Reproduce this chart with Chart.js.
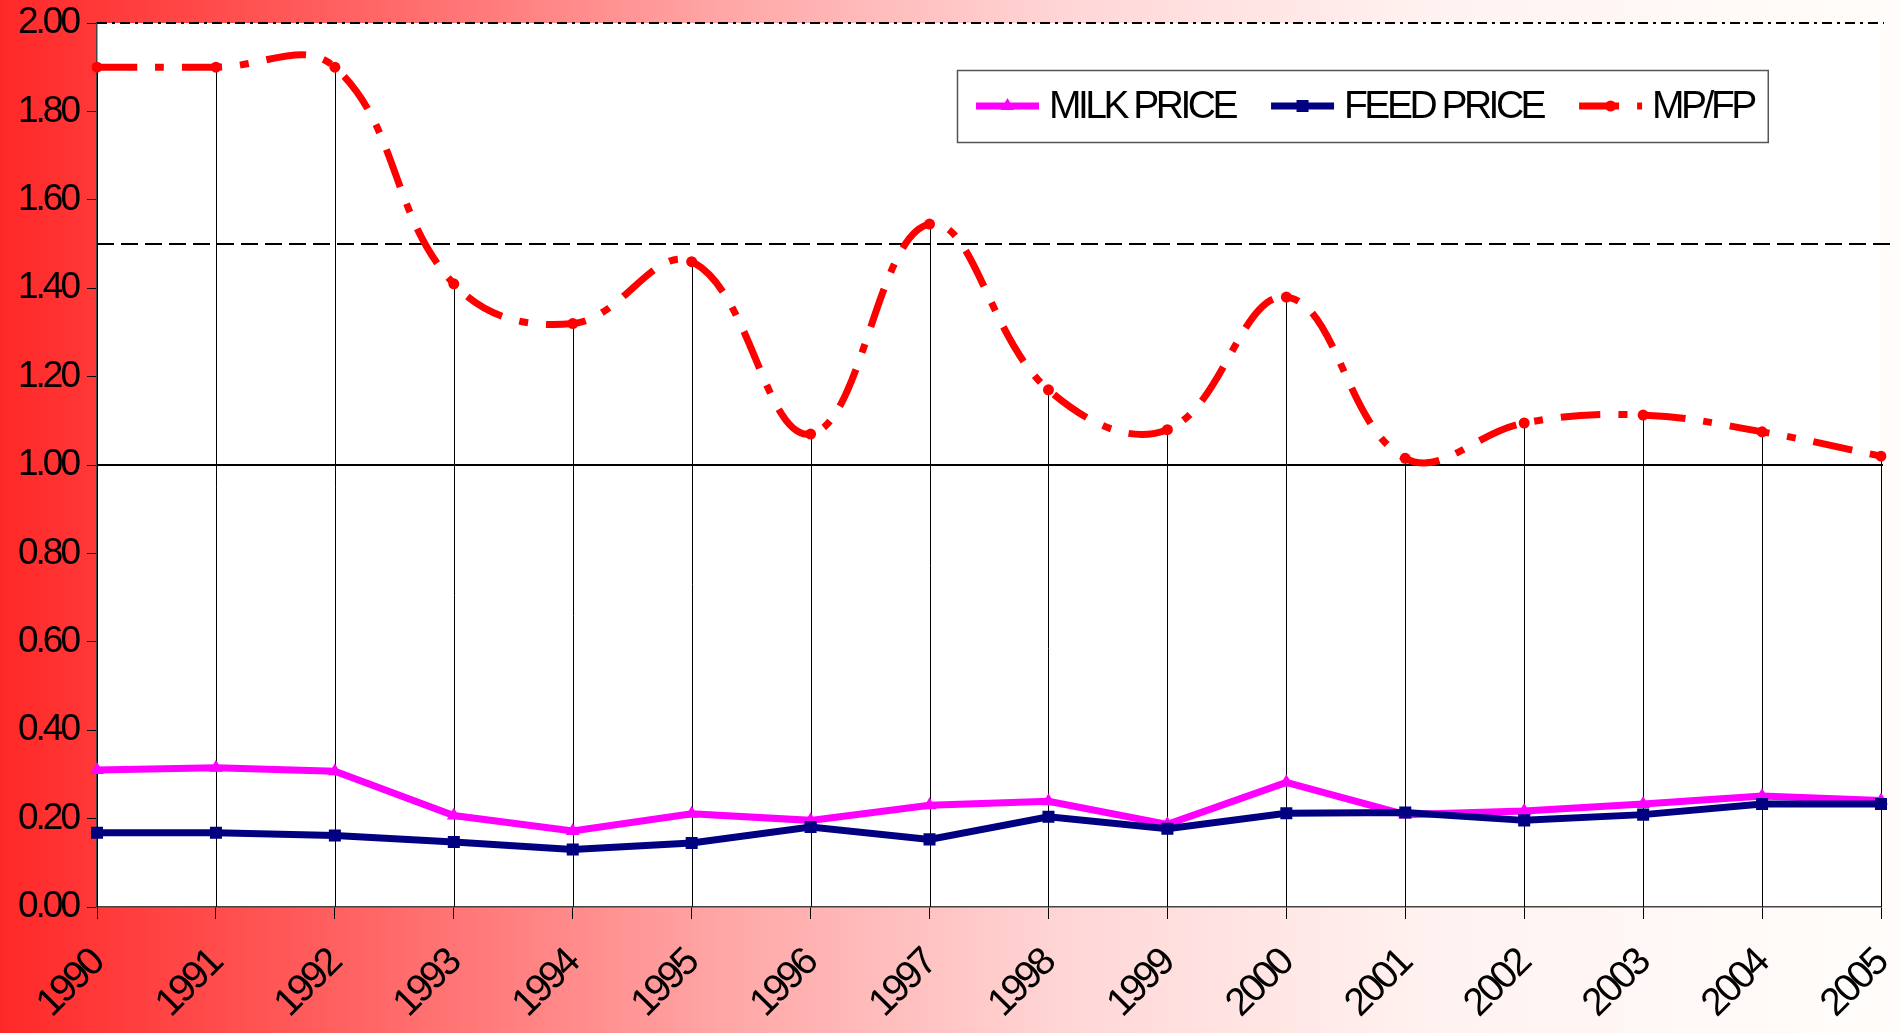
<!DOCTYPE html>
<html>
<head>
<meta charset="utf-8">
<title>Milk price / feed price</title>
<script src="https://cdn.jsdelivr.net/npm/chart.js@4.4.0/dist/chart.umd.min.js"></script>
<style>
  html, body { margin: 0; padding: 0; background: #fff; }
  canvas { display: block; }
</style>
</head>
<body>
<canvas id="chartPrices" width="1899" height="1033"></canvas>
<script>
const years = ['1990', '1991', '1992', '1993', '1994', '1995', '1996', '1997', '1998', '1999', '2000', '2001', '2002', '2003', '2004', '2005'];
const milkPrice = [0.31, 0.315, 0.307, 0.207, 0.172, 0.211, 0.196, 0.23, 0.239, 0.187, 0.282, 0.209, 0.217, 0.233, 0.251, 0.241];
const feedPrice = [0.168, 0.168, 0.162, 0.147, 0.13, 0.145, 0.181, 0.153, 0.204, 0.177, 0.212, 0.214, 0.196, 0.209, 0.233, 0.233];
const mpFp = [1.90, 1.90, 1.90, 1.41, 1.32, 1.46, 1.07, 1.545, 1.17, 1.08, 1.38, 1.015, 1.095, 1.113, 1.075, 1.02];
const refLevels = [2.0, 1.5, 1.0];

const FONT = '"Liberation Sans", Arial, sans-serif';
const MPFP_DASH = [40, 18, 9, 18];

// gradient page background + white plot area
const background = {
  id: 'background',
  beforeDraw(chart) {
    const { ctx, width, height, chartArea: a } = chart;
    ctx.letterSpacing = '-3px'; // squeeze tick labels like the original
    const g = ctx.createLinearGradient(0, 0, width, 0);
    g.addColorStop(0, '#ff2828');
    g.addColorStop(0.19, '#ff6464');
    g.addColorStop(0.38, '#ffa6a6');
    g.addColorStop(0.57, '#ffd8d8');
    g.addColorStop(0.76, '#fff3f1');
    g.addColorStop(1, '#fffdfb');
    ctx.save();
    ctx.fillStyle = g;
    ctx.fillRect(0, 0, width, height);
    ctx.fillStyle = '#fff';
    ctx.fillRect(a.left, a.top, a.right - a.left, a.bottom - a.top);
    ctx.restore();
  }
};

// 2.00 / 1.50 / 1.00 lines and drop lines from the MP/FP points
const refAndDrop = {
  id: 'refAndDrop',
  beforeDatasetsDraw(chart) {
    const { ctx, chartArea: a, scales: { y } } = chart;
    const styles = [
      { dash: [10, 5, 3, 5], width: 2, extra: 3 },
      { dash: [17, 7], width: 2, extra: 9 },
      { dash: [], width: 2, extra: 2 }
    ];
    ctx.save();
    refLevels.forEach((v, i) => {
      const py = Math.round(y.getPixelForValue(v));
      ctx.strokeStyle = '#000';
      ctx.lineWidth = styles[i].width;
      ctx.setLineDash(styles[i].dash);
      ctx.beginPath();
      ctx.moveTo(a.left, py);
      ctx.lineTo(a.right + styles[i].extra, py);
      ctx.stroke();
    });
    ctx.setLineDash([]);
    ctx.lineWidth = 1;
    ctx.strokeStyle = '#000';
    const meta = chart.getDatasetMeta(2);
    meta.data.forEach(pt => {
      const px = Math.round(pt.x) + 0.5;
      ctx.beginPath();
      ctx.moveTo(px, pt.y);
      ctx.lineTo(px, a.bottom);
      ctx.stroke();
    });
    ctx.restore();
  }
};

const legendBox = {
  id: 'legendBox',
  afterDraw(chart) {
    const ctx = chart.ctx;
    const left = 957, top = 70, h = 72, sample = 63;
    const cy = top + h / 2;
    ctx.save();
    ctx.font = `39px ${FONT}`;
    ctx.letterSpacing = '-3.5px';
    const ds = chart.data.datasets;
    let w = 19;
    ds.forEach((d, i) => {
      w += sample + 10 + ctx.measureText(d.label).width;
      if (i < ds.length - 1) w += 36;
    });
    w += 14;
    ctx.fillStyle = '#fff';
    ctx.fillRect(left, top, w, h);
    ctx.strokeStyle = '#555';
    ctx.lineWidth = 1.5;
    ctx.strokeRect(left + 0.5, top + 0.5, w, h);

    let x = left + 19;
    ds.forEach(d => {
      ctx.strokeStyle = d.borderColor;
      ctx.lineWidth = d.borderWidth;
      ctx.setLineDash(d.borderDash || []);
      ctx.beginPath();
      ctx.moveTo(x, cy);
      ctx.lineTo(x + sample, cy);
      ctx.stroke();
      ctx.setLineDash([]);
      ctx.fillStyle = d.pointBackgroundColor;
      Chart.helpers.drawPoint(ctx, { pointStyle: d.pointStyle, radius: d.pointRadius, rotation: 0, borderWidth: 0 }, x + sample / 2, cy);
      ctx.fillStyle = '#000';
      ctx.textBaseline = 'middle';
      ctx.textAlign = 'left';
      ctx.fillText(d.label, x + sample + 10, cy + 1);
      x += sample + 10 + ctx.measureText(d.label).width + 36;
    });
    ctx.restore();
  }
};

new Chart(document.getElementById('chartPrices'), {
  type: 'line',
  data: {
    labels: years,
    datasets: [
      { label: 'MILK PRICE', data: milkPrice, borderColor: '#ff00ff', backgroundColor: '#ff00ff', pointBackgroundColor: '#ff00ff', borderWidth: 7, pointStyle: 'triangle', pointRadius: 8, pointBorderWidth: 0, tension: 0, order: 2 },
      { label: 'FEED PRICE', data: feedPrice, borderColor: '#000080', backgroundColor: '#000080', pointBackgroundColor: '#000080', borderWidth: 7, pointStyle: 'rect', pointRadius: 8.5, pointBorderWidth: 0, tension: 0, order: 1 },
      { label: 'MP/FP', data: mpFp, borderColor: '#ff0000', backgroundColor: '#ff0000', pointBackgroundColor: '#ff0000', borderWidth: 7, borderDash: MPFP_DASH, borderCapStyle: 'butt', pointStyle: 'circle', pointRadius: 5.5, pointBorderWidth: 0, tension: 0.4, order: 0 }
    ]
  },
  options: {
    responsive: false,
    animation: false,
    devicePixelRatio: 1,
    layout: { padding: { top: 23, right: 18, left: 0, bottom: 0 } },
    plugins: {
      legend: { display: false },
      tooltip: { enabled: false }
    },
    scales: {
      x: {
        offset: false,
        grid: { drawOnChartArea: false, drawTicks: true, tickLength: 12, color: '#000', lineWidth: 1 },
        border: { display: true, color: '#444', width: 1.5 },
        ticks: { autoSkip: false, minRotation: 45, maxRotation: 45, color: '#000', padding: 22, font: { family: FONT, size: 39 } },
        afterFit(scale) {
          scale.height = 126;
          scale.paddingLeft = 0;
          scale.paddingRight = 0;
        }
      },
      y: {
        min: 0,
        max: 2,
        grid: { drawOnChartArea: false, drawTicks: true, tickLength: 10, color: '#000', lineWidth: 1 },
        border: { display: true, color: '#444', width: 1.5 },
        ticks: { stepSize: 0.2, color: '#000', padding: 9, font: { family: FONT, size: 37 }, callback: v => Number(v).toFixed(2) },
        afterFit(scale) {
          scale.width = 97;
          scale.paddingTop = 0;
          scale.paddingBottom = 0;
        }
      }
    }
  },
  plugins: [background, refAndDrop, legendBox]
});
</script>
</body>
</html>
